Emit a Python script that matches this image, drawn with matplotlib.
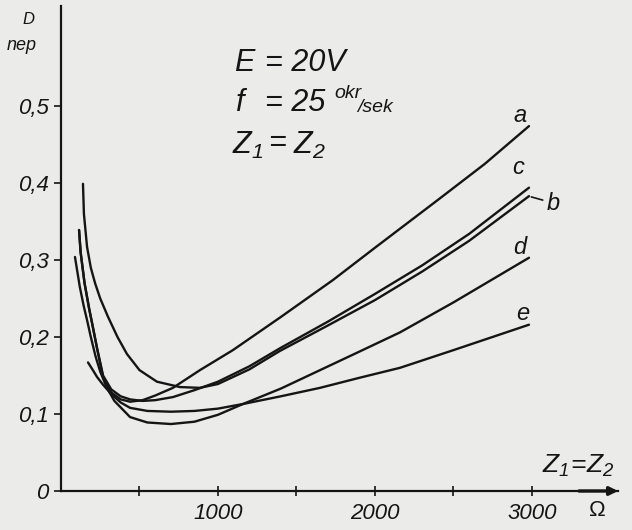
import matplotlib
matplotlib.use('Agg')
import matplotlib.pyplot as plt

# ---------------- data ----------------
a_x = [115, 125, 150, 180, 200, 230, 268, 320, 380, 440, 520, 600, 713, 885, 1095, 1400, 1732, 2000, 2400, 2700, 2981]
a_y = [0.339, 0.31, 0.27, 0.236, 0.216, 0.185, 0.148, 0.128, 0.119, 0.116, 0.118, 0.124, 0.134, 0.157, 0.183, 0.226, 0.274, 0.316, 0.378, 0.425, 0.474]

b_x = [140, 146, 166, 190, 217, 250, 300, 360, 420, 500, 611, 758, 885, 1000, 1200, 1395, 1700, 2000, 2300, 2600, 2981]
b_y = [0.399, 0.36, 0.317, 0.29, 0.27, 0.25, 0.226, 0.2, 0.178, 0.157, 0.142, 0.135, 0.134, 0.139, 0.158, 0.182, 0.215, 0.248, 0.285, 0.325, 0.383]

c_x = [115, 125, 150, 180, 200, 230, 268, 320, 380, 440, 520, 600, 713, 850, 1000, 1200, 1400, 1700, 2000, 2300, 2600, 2981]
c_y = [0.339, 0.31, 0.27, 0.236, 0.216, 0.185, 0.150, 0.132, 0.123, 0.119, 0.117, 0.118, 0.122, 0.131, 0.142, 0.162, 0.186, 0.220, 0.256, 0.293, 0.334, 0.394]

d_x = [89, 100, 120, 145, 166, 190, 220, 250, 290, 340, 440, 550, 700, 850, 1000, 1159, 1400, 1650, 1900, 2159, 2500, 2981]
d_y = [0.304, 0.29, 0.265, 0.24, 0.222, 0.2, 0.175, 0.155, 0.135, 0.117, 0.096, 0.089, 0.087, 0.09, 0.099, 0.113, 0.133, 0.157, 0.181, 0.206, 0.245, 0.303]

e_x = [172, 200, 230, 268, 320, 380, 440, 550, 700, 850, 1000, 1159, 1400, 1650, 1900, 2159, 2500, 2981]
e_y = [0.167, 0.158, 0.148, 0.138, 0.126, 0.115, 0.108, 0.104, 0.103, 0.104, 0.107, 0.113, 0.123, 0.134, 0.147, 0.160, 0.183, 0.216]

curve_names = ['a', 'b', 'c', 'd', 'e']
y_ticks = [0, 0.1, 0.2, 0.3, 0.4, 0.5]
y_tick_labels = ['0', '0,1', '0,2', '0,3', '0,4', '0,5']
x_ticks = [500, 1000, 1500, 2000, 2500, 3000]
x_tick_labels = ['', '1000', '', '2000', '', '3000']

# ---------------- style ----------------
BG = '#ebebe9'
INK = '#151515'
plt.rcParams['font.family'] = ['Liberation Sans', 'DejaVu Sans']
plt.rcParams['mathtext.fontset'] = 'custom'
plt.rcParams['mathtext.it'] = 'Liberation Sans:italic'
plt.rcParams['mathtext.rm'] = 'Liberation Sans:italic'
plt.rcParams['mathtext.default'] = 'it'

W, H = 632, 530
fig = plt.figure(figsize=(W / 100, H / 100), dpi=100, facecolor=BG)
ax = fig.add_axes([61 / W, 39 / H, 557 / W, 485 / H])
ax.set_facecolor(BG)
ax.set_xlim(0, 3548)
ax.set_ylim(0, 0.63)


def P(x, y):
    return (x / W, 1 - y / H)


for xs, ys in [(a_x, a_y), (b_x, b_y), (c_x, c_y), (d_x, d_y), (e_x, e_y)]:
    ax.plot(xs, ys, color=INK, lw=1.7, solid_capstyle='round', solid_joinstyle='round')

for s in ['top', 'right']:
    ax.spines[s].set_visible(False)
for s in ['left', 'bottom']:
    ax.spines[s].set_color(INK)
    ax.spines[s].set_linewidth(1.6)

ax.set_yticks(y_ticks)
ax.set_yticklabels(y_tick_labels)
ax.set_xticks(x_ticks)
ax.set_xticklabels(x_tick_labels)
ax.tick_params(axis='y', direction='out', length=5, width=1.2, pad=4, labelsize=16, colors=INK)
ax.tick_params(axis='x', direction='inout', length=7, width=1.2, pad=5, labelsize=16, colors=INK)
for lab in ax.get_xticklabels() + ax.get_yticklabels():
    lab.set_fontstyle('italic')

# axis arrow
ax.annotate('', xy=(1.0, 0), xycoords='axes fraction', xytext=(0.93, 0),
            arrowprops=dict(arrowstyle='-|>', color=INK, lw=2.4, mutation_scale=12,
                            shrinkA=0, shrinkB=0), annotation_clip=False)

# curve labels
lab_pos = {'a': (520, 115), 'c': (518, 168), 'd': (520, 248), 'e': (523, 313)}
for n, (px, py) in lab_pos.items():
    fig.text(*P(px, py), n, fontsize=17, fontstyle='italic', ha='center', va='center', color=INK)
ax.annotate('b', xy=(b_x[-1] + 15, b_y[-1] - 0.001), xytext=(3095, 0.374),
            fontsize=17, fontstyle='italic', ha='left', va='center', color=INK,
            arrowprops=dict(arrowstyle='-', color=INK, lw=1.2, shrinkA=1, shrinkB=0))

# axis titles
fig.text(*P(28, 20), 'D', fontsize=12, fontstyle='italic', ha='center', va='center', color=INK)
fig.text(*P(22, 45), 'nep', fontsize=13, fontstyle='italic', ha='center', va='center', color=INK)
fig.text(*P(597, 511), 'Ω', fontsize=16, ha='center', va='center', color=INK)
fig.text(*P(578, 466), r'$Z_{1}\!=\!Z_{2}$', fontsize=19, ha='center', va='center', color=INK)

# parameter block
big = dict(fontsize=22, fontstyle='italic', va='center', color=INK)
fig.text(*P(234, 63), 'E', ha='left', **big)
fig.text(*P(265, 63), '= 20V', ha='left', **big)
fig.text(*P(236, 103), 'f', ha='left', **big)
fig.text(*P(265, 103), '= 25', ha='left', **big)
fig.text(*P(334, 93), 'okr', fontsize=14, fontstyle='italic', ha='left', va='center', color=INK)
fig.text(*P(357, 108), '/sek', fontsize=14, fontstyle='italic', ha='left', va='center', color=INK)
fig.text(*P(232, 145), r'$Z_{1}$', ha='left', **big)
fig.text(*P(268, 143), '=', ha='left', **big)
fig.text(*P(293, 145), r'$Z_{2}$', ha='left', **big)

fig.savefig('out.png', dpi=100, facecolor=BG)
